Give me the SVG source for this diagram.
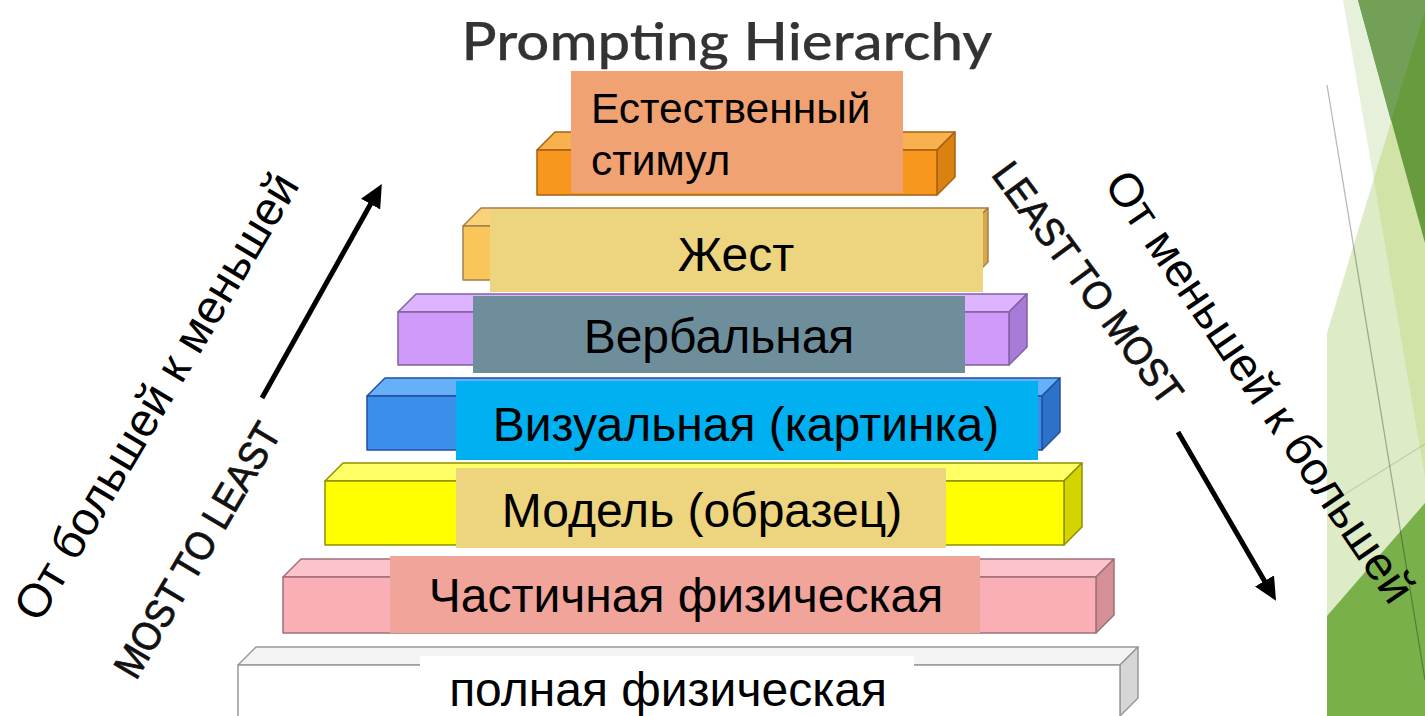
<svg xmlns="http://www.w3.org/2000/svg" width="1425" height="716" viewBox="0 0 1425 716">
<defs>
<style>
.lbl{font-family:"Liberation Sans",Arial,sans-serif;fill:#000;}
.big{font-family:"Liberation Sans",Arial,sans-serif;font-size:47px;fill:#000;}
.eng{font-family:"Liberation Sans",Arial,sans-serif;font-size:40px;fill:#111;stroke:#111;stroke-width:0.8px;}
.arrow{stroke:#000;stroke-width:5;fill:none;marker-end:url(#ah);}
.edge{stroke-width:1.5;stroke-linejoin:round;}
</style>
<marker id="ah" markerUnits="userSpaceOnUse" markerWidth="24" markerHeight="22" refX="7" refY="11" orient="auto">
<path d="M0,0 L23,11 L0,22 z" fill="#000"/>
</marker>
</defs>
<rect width="1425" height="716" fill="#fff"/>

<g id="decor">
<polygon points="1425,10 1327,333 1327,716 1425,716" fill="#DDEBC6"/>
<polygon points="1343,0 1425,0 1425,10 1373.7,178.7" fill="#E7F0DA"/>
<polygon points="1373.7,178.7 1425,10 1425,477" fill="#D1E3A6"/>
<polygon points="1358,0 1425,0 1425,243" fill="#689B3D"/>
<polygon points="1358,0 1425,0 1425,10 1391,121" fill="#72A057"/>
<polygon points="1327,616 1425,503 1425,716 1327,716" fill="#79B04A"/>
<line x1="1327" y1="85" x2="1425" y2="680" stroke="#000" stroke-opacity="0.28" stroke-width="1.3"/>
<line x1="1345" y1="494" x2="1425" y2="444" stroke="#000" stroke-opacity="0.12" stroke-width="1.3"/>
</g>

<text x="727" y="60" font-family="Lato,'Open Sans',sans-serif" font-size="52" font-weight="500" fill="#333" stroke="#333" stroke-width="0.25" text-anchor="middle" textLength="531" lengthAdjust="spacingAndGlyphs">Prompting Hierarchy</text>

<g id="level-white">
<polygon class="edge" points="238,665 256,647 1138,647 1120,665" fill="#F4F4F4" stroke="#999"/>
<polygon class="edge" points="1120,665 1138,647 1138,698 1120,716" fill="#D6D6D6" stroke="#999"/>
<rect class="edge" x="238" y="665" width="882" height="60" fill="#fff" stroke="#999"/>
<rect x="420" y="656" width="494" height="60" fill="#fff"/>
<text class="lbl" x="668" y="706" font-size="48" text-anchor="middle">полная физическая</text>
</g>

<g id="level-pink">
<polygon class="edge" points="283,577 301,559 1114,559 1096,577" fill="#FCC4CA" stroke="#A07078"/>
<polygon class="edge" points="1096,577 1114,559 1114,615 1096,633" fill="#D58F96" stroke="#A07078"/>
<rect class="edge" x="283" y="577" width="813" height="56" fill="#FAAEB6" stroke="#A07078"/>
<rect x="390" y="556" width="590" height="77" fill="#F0A49A"/>
<text class="lbl" x="686" y="612" font-size="48" text-anchor="middle">Частичная физическая</text>
</g>

<g id="level-yellow">
<polygon class="edge" points="325,481 343,463 1082,463 1064,481" fill="#FFFF66" stroke="#909000"/>
<polygon class="edge" points="1064,481 1082,463 1082,527 1064,545" fill="#D4D400" stroke="#909000"/>
<rect class="edge" x="325" y="481" width="739" height="64" fill="#FFFF00" stroke="#909000"/>
<rect x="456" y="468" width="490" height="80" fill="#EDD47E"/>
<text class="lbl" x="702" y="527" font-size="48" text-anchor="middle">Модель (образец)</text>
</g>

<g id="level-blue">
<polygon class="edge" points="367,396 385,378 1060,378 1042,396" fill="#66B0F8" stroke="#2050A0"/>
<polygon class="edge" points="1042,396 1060,378 1060,432 1042,450" fill="#2B72C8" stroke="#2050A0"/>
<rect class="edge" x="367" y="396" width="675" height="54" fill="#3A8FEA" stroke="#2050A0"/>
<rect x="456" y="381" width="582" height="79" fill="#00B0F0"/>
<text class="lbl" x="746" y="441" font-size="48" text-anchor="middle">Визуальная (картинка)</text>
</g>

<g id="level-violet">
<polygon class="edge" points="398,312 416,294 1027,294 1009,312" fill="#DDB4FF" stroke="#8060A0"/>
<polygon class="edge" points="1009,312 1027,294 1027,347 1009,365" fill="#A97BD9" stroke="#8060A0"/>
<rect class="edge" x="398" y="312" width="611" height="53" fill="#D09AF8" stroke="#8060A0"/>
<rect x="473" y="296" width="492" height="77" fill="#6E8E9C"/>
<text class="lbl" x="719" y="353" font-size="48" text-anchor="middle">Вербальная</text>
</g>

<g id="level-gesture">
<polygon class="edge" points="463,226 481,208 988,208 970,226" fill="#FBD27A" stroke="#A08050"/>
<polygon class="edge" points="970,226 988,208 988,262 970,280" fill="#D8A848" stroke="#A08050"/>
<rect class="edge" x="463" y="226" width="507" height="54" fill="#FAC65A" stroke="#A08050"/>
<rect x="490" y="210" width="493" height="82" fill="#EDD47E"/>
<text class="lbl" x="736" y="271" font-size="48" text-anchor="middle">Жест</text>
</g>

<g id="level-orange">
<polygon class="edge" points="537,150 555,132 955,132 937,150" fill="#F9B04E" stroke="#A86010"/>
<polygon class="edge" points="937,150 955,132 955,177 937,195" fill="#D98212" stroke="#A86010"/>
<rect class="edge" x="537" y="150" width="400" height="45" fill="#F8971D" stroke="#A86010"/>
<rect x="571" y="71" width="332" height="122" fill="#F0A273"/>
<text class="lbl" x="591" y="123" font-size="42.5">Естественный</text>
<text class="lbl" x="591" y="175" font-size="42.5">стимул</text>
</g>

<g id="connectors">
<line class="arrow" x1="262" y1="398" x2="374" y2="198"/>
<line class="arrow" x1="1178" y1="432" x2="1268" y2="587"/>
</g>

<g id="side-labels">
<text class="eng" transform="translate(197,550) rotate(-59.5)" x="0" y="14" text-anchor="middle" textLength="288" lengthAdjust="spacingAndGlyphs">MOST TO LEAST</text>
<text class="eng" transform="translate(1088,283) rotate(53.5)" x="0" y="14" text-anchor="middle" textLength="290" lengthAdjust="spacingAndGlyphs">LEAST TO MOST</text>
<text class="big" transform="translate(157,397) rotate(-59.3)" x="0" y="15" text-anchor="middle">От большей к меньшей</text>
<text class="big" transform="translate(1259,387) rotate(55.8)" x="0" y="15" text-anchor="middle">От меньшей к большей</text>
</g>
</svg>
